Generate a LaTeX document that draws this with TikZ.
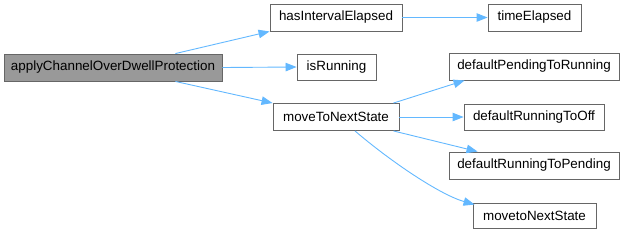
\documentclass[tikz,border=0pt]{standalone}
\usepackage{fontspec}
\setmainfont{Liberation Sans}
\usetikzlibrary{arrows.meta,calc}
\definecolor{edgeblue}{HTML}{63B8FF}
\definecolor{boxborder}{HTML}{666666}
\definecolor{mainfill}{HTML}{999999}
\tikzset{
  fnbox/.style={draw=boxborder, line width=0.9pt, fill=white, inner sep=0pt, font=\fontsize{13.4}{15}\selectfont, text=black},
  mainbox/.style={fnbox, fill=mainfill},
  edge/.style={draw=edgeblue, line width=0.9pt, -{Triangle[length=11pt,width=8.5pt]}}
}
\begin{document}
\begin{tikzpicture}[x=1pt,y=-1pt]
\useasboundingbox (0,0) rectangle (625,234);
\node[mainbox, minimum width=218pt, minimum height=27pt] (apply) at (113,67.5) {applyChannelOverDwellProtection};
\node[fnbox, minimum width=132pt, minimum height=27pt] (hasI) at (336,17.5) {hasIntervalElapsed};
\node[fnbox, minimum width=93pt, minimum height=27pt] (time) at (534.5,17.5) {timeElapsed};
\node[fnbox, minimum width=79pt, minimum height=26pt] (isR) at (336.5,67) {isRunning};
\node[fnbox, minimum width=126pt, minimum height=27pt] (mTN) at (336,117) {moveToNextState};
\node[fnbox, minimum width=170pt, minimum height=27pt] (dPR) at (534,66.5) {defaultPendingToRunning};
\node[fnbox, minimum width=140pt, minimum height=26pt] (dRO) at (534,117) {defaultRunningToOff};
\node[fnbox, minimum width=170pt, minimum height=27pt] (dRP) at (534,165.5) {defaultRunningToPending};
\node[fnbox, minimum width=123pt, minimum height=25pt] (mvN) at (534.5,215.5) {movetoNextState};

\draw[edge] ([xshift=-47pt]apply.north east) -- ([yshift=0pt]hasI.south west);
\draw[edge] (apply.east) -- (isR.west);
\draw[edge] ([xshift=-47pt]apply.south east) -- (mTN.north west);
\draw[edge] (hasI.east) -- (time.west);
\draw[edge] ([xshift=-6pt]mTN.north east) -- ([xshift=16pt]dPR.south west);
\draw[edge] (mTN.east) -- (dRO.west);
\draw[edge] ([xshift=-6pt]mTN.south east) -- ([xshift=29pt]dRP.north west);
\draw[edge] ([xshift=19pt]mTN.south) .. controls +(35,30) and +(-35,-10) .. ([xshift=2pt,yshift=-2pt]mvN.north west);
\end{tikzpicture}
\end{document}
